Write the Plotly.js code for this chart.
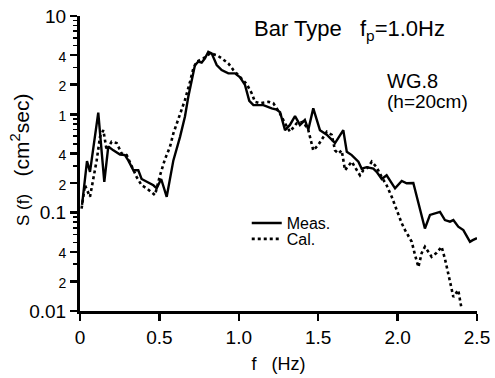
<!DOCTYPE html>
<html>
<head>
<meta charset="utf-8">
<script src="https://cdn.plot.ly/plotly-3.0.1.min.js"></script>
<style>html,body{margin:0;padding:0;background:#fff;}</style>
</head>
<body>
<div id="chart" style="width:495px;height:378px;"></div>
<script>
// Measured spectrum (solid)
const measF = [0.013,0.044,0.063,0.115,0.153,0.178,0.21,0.252,0.283,0.304,0.336,0.367,0.388,0.42,0.462,0.483,0.511,0.546,0.588,0.63,0.661,0.682,0.703,0.724,0.745,0.766,0.787,0.808,0.829,0.861,0.892,0.934,0.976,1.008,1.039,1.066,1.092,1.155,1.207,1.238,1.26,1.291,1.322,1.354,1.385,1.416,1.438,1.469,1.511,1.554,1.606,1.658,1.68,1.711,1.753,1.774,1.805,1.847,1.868,1.9,1.931,1.952,1.984,2.026,2.057,2.099,2.12,2.172,2.204,2.235,2.267,2.298,2.33,2.351,2.382,2.414,2.456,2.473,2.5];
const measS = [0.12,0.335,0.26,1.04,0.206,0.47,0.43,0.39,0.385,0.34,0.27,0.27,0.22,0.206,0.19,0.177,0.22,0.145,0.34,0.59,0.95,1.51,2.24,3.17,3.43,3.35,3.71,4.33,4.17,3.17,2.82,2.61,2.61,2.38,1.99,1.37,1.24,1.24,1.15,1.12,1.05,0.69,0.78,0.96,0.78,0.875,0.70,1.15,0.69,0.62,0.51,0.69,0.417,0.385,0.33,0.28,0.29,0.28,0.26,0.22,0.24,0.215,0.177,0.21,0.199,0.2,0.15,0.069,0.095,0.098,0.102,0.084,0.081,0.084,0.072,0.0665,0.0506,0.0525,0.055];
// Calculated spectrum (dotted)
const calF = [0.01,0.031,0.063,0.084,0.105,0.126,0.147,0.168,0.199,0.231,0.262,0.294,0.315,0.357,0.388,0.42,0.472,0.504,0.535,0.567,0.588,0.63,0.661,0.693,0.714,0.735,0.777,0.819,0.861,0.892,0.934,0.966,1.008,1.05,1.081,1.102,1.134,1.186,1.217,1.259,1.291,1.322,1.364,1.406,1.438,1.459,1.469,1.501,1.532,1.554,1.585,1.606,1.627,1.648,1.669,1.69,1.711,1.732,1.763,1.784,1.816,1.837,1.868,1.9,1.931,1.963,1.994,2.026,2.047,2.089,2.11,2.131,2.152,2.172,2.214,2.246,2.277,2.298,2.319,2.34,2.351,2.382,2.393,2.403];
const calS = [0.11,0.19,0.145,0.215,0.34,0.59,0.69,0.43,0.526,0.51,0.40,0.385,0.32,0.23,0.19,0.177,0.151,0.24,0.35,0.47,0.64,1.02,1.40,2.15,2.94,3.43,3.71,4.17,4.0,3.71,3.3,2.82,2.41,2.03,1.64,1.34,1.3,1.34,1.3,1.02,0.81,0.665,0.81,0.84,0.69,0.49,0.43,0.49,0.59,0.665,0.62,0.43,0.40,0.43,0.27,0.30,0.33,0.29,0.24,0.27,0.29,0.33,0.29,0.23,0.19,0.145,0.106,0.078,0.0665,0.0506,0.037,0.028,0.039,0.045,0.0356,0.039,0.045,0.034,0.024,0.017,0.0139,0.0163,0.0124,0.0105];

const xTickVals = [0,0.5,1,1.5,2,2.5];
const xTickText = ['0','0.5','1.0','1.5','2.0','2.5'];
const yTickVals = [0.01,0.02,0.04,0.1,0.2,0.4,1,2,4,10];
const yTickText = ['0.01','2','4','0.1','2','4','1','2','4','10'];
const yMinorVals = [0.03,0.05,0.06,0.07,0.08,0.09,0.3,0.5,0.6,0.7,0.8,0.9,3,5,6,7,8,9];

const FONT = 'Arial, "Liberation Sans", Helvetica, sans-serif';
const small = s => (s.length === 1 ? '<span style="font-size:14px">' + s + '</span>' : s);
const NB = n => '\u00a0'.repeat(n);

const traces = [
  {x: measF, y: measS, type: 'scatter', mode: 'lines', name: 'Meas.',
   line: {color: '#000', width: 2.4}, legend: 'legend'},
  {x: calF, y: calS, type: 'scatter', mode: 'lines', name: 'Cal.',
   line: {color: '#000', width: 2.6, dash: 'dot'}, legend: 'legend2'}
];

const layout = {
  width: 495, height: 378,
  margin: {l: 80, r: 18, t: 16, b: 67},
  paper_bgcolor: '#fff', plot_bgcolor: '#fff',
  font: {family: FONT, color: '#000', size: 16},
  showlegend: true,
  legend: {x: 0.42, y: 0.298, xanchor: 'left', yanchor: 'middle', bgcolor: 'rgba(0,0,0,0)',
           font: {size: 16, family: FONT}},
  legend2: {x: 0.42, y: 0.244, xanchor: 'left', yanchor: 'middle', bgcolor: 'rgba(0,0,0,0)',
           font: {size: 16, family: FONT}},
  xaxis: {
    range: [0, 2.5], tickvals: xTickVals, ticktext: xTickText,
    ticks: 'outside', ticklen: 7, tickwidth: 2.5, tickcolor: '#000',
    showline: true, linewidth: 3, linecolor: '#000', mirror: false,
    showgrid: false, zeroline: false, tickfont: {size: 19, family: FONT},
    title: {text: 'f' + NB(3) + '(Hz)', font: {size: 18, family: FONT}, standoff: 11},
    automargin: false
  },
  yaxis: {
    type: 'log', range: [-2, 1], tickvals: yTickVals, ticktext: yTickText.map(small),
    ticks: 'outside', ticklen: 7, tickwidth: 2.5, tickcolor: '#000',
    minor: {tickvals: yMinorVals, ticks: 'outside', ticklen: 4, tickwidth: 1.5, tickcolor: '#000', showgrid: false},
    showline: true, linewidth: 3, linecolor: '#000',
    showgrid: false, zeroline: false, tickfont: {size: 19, family: FONT},
    automargin: false
  },
  annotations: [
    {xref: 'paper', yref: 'paper', x: (20 - 80) / 397, y: (311 - 160) / 295, xanchor: 'center', yanchor: 'middle',
     textangle: -90, showarrow: false, font: {size: 21, family: FONT},
     text: '<span style="font-size:17px">S (f)</span>' + NB(3) + '(cm<sup>2</sup>sec)'},
    {xref: 'paper', yref: 'paper', x: (252 - 80) / 397, y: (311 - 30) / 295, xanchor: 'left', yanchor: 'middle',
     text: 'Bar Type' + NB(3) + 'f<sub>p</sub>=1.0Hz', showarrow: false, font: {size: 22, family: FONT}},
    {xref: 'paper', yref: 'paper', x: (385 - 80) / 397, y: (311 - 81) / 295, xanchor: 'left', yanchor: 'middle',
     text: 'WG.8', showarrow: false, font: {size: 20, family: FONT}},
    {xref: 'paper', yref: 'paper', x: (385 - 80) / 397, y: (311 - 101) / 295, xanchor: 'left', yanchor: 'middle',
     text: '(h=20cm)', showarrow: false, font: {size: 19, family: FONT}}
  ]
};

Plotly.newPlot('chart', traces, layout, {displayModeBar: false, staticPlot: true});
</script>
</body>
</html>
